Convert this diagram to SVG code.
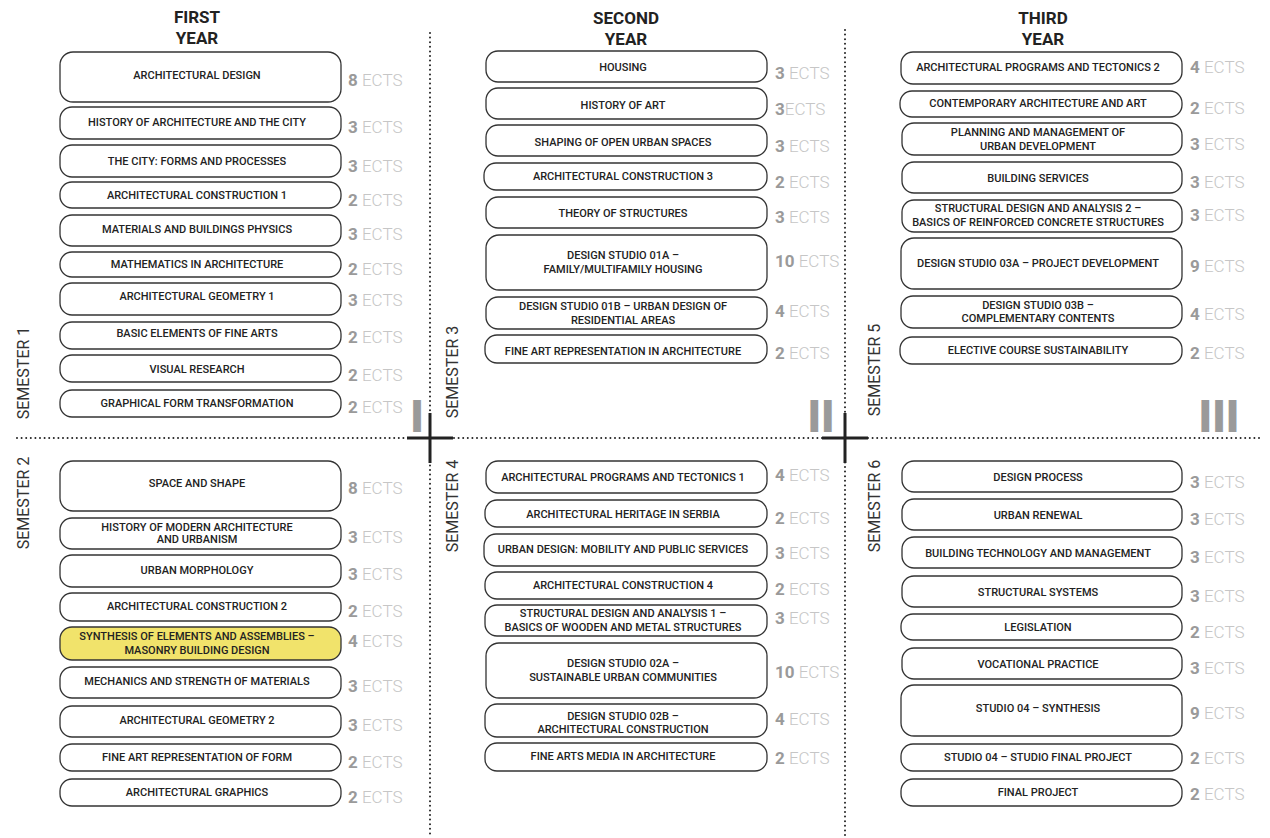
<svg xmlns="http://www.w3.org/2000/svg" width="1270" height="838" viewBox="0 0 1270 838">
<style>
.bg{fill:#fff}
.box{fill:#fff;stroke:#333;stroke-width:1.3}
.hl{fill:#f1e36b}
.lbl{font-family:Roboto,'Liberation Sans',sans-serif;font-size:11px;font-weight:500;fill:#222;text-anchor:middle}
.ects{font-family:Roboto,'Liberation Sans',sans-serif;font-size:17px}
.num{font-weight:700;fill:#9a9a9a}
.unit{font-weight:300;fill:#c6c6c6}
.year{font-family:Roboto,'Liberation Sans',sans-serif;font-size:17px;font-weight:700;fill:#222;text-anchor:middle}
.sem{font-family:Roboto,'Liberation Sans',sans-serif;font-size:16px;font-weight:400;fill:#333;text-anchor:middle}
.roman{font-family:Roboto,'Liberation Sans',sans-serif;font-size:45px;font-weight:900;fill:#9a9a9a;text-anchor:middle}
.dot{fill:none;stroke:#222;stroke-width:2;stroke-linecap:round;stroke-dasharray:0 4.6}
.cross{fill:none;stroke:#222;stroke-width:3}
</style>
<rect class="bg" x="0" y="0" width="1270" height="838"/>

<g id="grid">
<line class="dot" x1="430" y1="33" x2="430" y2="838"/>
<line class="dot" x1="845" y1="30" x2="845" y2="838"/>
<line class="dot" x1="17" y1="438" x2="1262" y2="438"/>
<path class="cross" d="M407 438H453M430 413V463"/>
<path class="cross" d="M822 438H868M845 413V463"/>
</g>

<g id="headers">
<text class="year" x="197" y="23">FIRST</text>
<text class="year" x="197" y="44">YEAR</text>
<text class="year" x="626" y="24">SECOND</text>
<text class="year" x="626" y="45">YEAR</text>
<text class="year" x="1043" y="24">THIRD</text>
<text class="year" x="1043" y="45">YEAR</text>
<text class="sem" transform="translate(29 373) rotate(-90)">SEMESTER 1</text>
<text class="sem" transform="translate(29 503) rotate(-90)">SEMESTER 2</text>
<text class="sem" transform="translate(458 372) rotate(-90)">SEMESTER 3</text>
<text class="sem" transform="translate(458 506) rotate(-90)">SEMESTER 4</text>
<text class="sem" transform="translate(880 370) rotate(-90)">SEMESTER 5</text>
<text class="sem" transform="translate(880 506) rotate(-90)">SEMESTER 6</text>
<text class="roman" x="417" y="432">I</text>
<text class="roman" x="821" y="432">II</text>
<text class="roman" x="1219" y="432">III</text>
</g>

<!-- Column 1 -->
<g id="c1-01"><rect class="box" x="60" y="52" width="281" height="50" rx="13"/><text class="lbl" x="197" y="79">ARCHITECTURAL DESIGN</text><text class="ects" x="348" y="86"><tspan class="num">8</tspan><tspan class="unit"> ECTS</tspan></text></g>
<g id="c1-02"><rect class="box" x="60" y="107" width="281" height="32" rx="12"/><text class="lbl" x="197" y="126">HISTORY OF ARCHITECTURE AND THE CITY</text><text class="ects" x="348" y="133"><tspan class="num">3</tspan><tspan class="unit"> ECTS</tspan></text></g>
<g id="c1-03"><rect class="box" x="60" y="145" width="281" height="32" rx="12"/><text class="lbl" x="197" y="165">THE CITY: FORMS AND PROCESSES</text><text class="ects" x="348" y="172"><tspan class="num">3</tspan><tspan class="unit"> ECTS</tspan></text></g>
<g id="c1-04"><rect class="box" x="60" y="182" width="281" height="26" rx="12"/><text class="lbl" x="197" y="199">ARCHITECTURAL CONSTRUCTION 1</text><text class="ects" x="348" y="206"><tspan class="num">2</tspan><tspan class="unit"> ECTS</tspan></text></g>
<g id="c1-05"><rect class="box" x="60" y="215" width="281" height="31" rx="12"/><text class="lbl" x="197" y="233">MATERIALS AND BUILDINGS PHYSICS</text><text class="ects" x="348" y="240"><tspan class="num">3</tspan><tspan class="unit"> ECTS</tspan></text></g>
<g id="c1-06"><rect class="box" x="60" y="252" width="281" height="25" rx="12"/><text class="lbl" x="197" y="268">MATHEMATICS IN ARCHITECTURE</text><text class="ects" x="348" y="275"><tspan class="num">2</tspan><tspan class="unit"> ECTS</tspan></text></g>
<g id="c1-07"><rect class="box" x="60" y="283" width="281" height="32" rx="12"/><text class="lbl" x="197" y="300">ARCHITECTURAL GEOMETRY 1</text><text class="ects" x="348" y="306"><tspan class="num">3</tspan><tspan class="unit"> ECTS</tspan></text></g>
<g id="c1-08"><rect class="box" x="60" y="322" width="281" height="27" rx="12"/><text class="lbl" x="197" y="337">BASIC ELEMENTS OF FINE ARTS</text><text class="ects" x="348" y="343"><tspan class="num">2</tspan><tspan class="unit"> ECTS</tspan></text></g>
<g id="c1-09"><rect class="box" x="60" y="355" width="281" height="27" rx="12"/><text class="lbl" x="197" y="373">VISUAL RESEARCH</text><text class="ects" x="348" y="381"><tspan class="num">2</tspan><tspan class="unit"> ECTS</tspan></text></g>
<g id="c1-10"><rect class="box" x="60" y="390" width="281" height="27" rx="12"/><text class="lbl" x="197" y="407">GRAPHICAL FORM TRANSFORMATION</text><text class="ects" x="348" y="413"><tspan class="num">2</tspan><tspan class="unit"> ECTS</tspan></text></g>
<g id="c1-11"><rect class="box" x="60" y="461" width="281" height="50" rx="13"/><text class="lbl" x="197" y="487">SPACE AND SHAPE</text><text class="ects" x="348" y="494"><tspan class="num">8</tspan><tspan class="unit"> ECTS</tspan></text></g>
<g id="c1-12"><rect class="box" x="60" y="518" width="281" height="31" rx="12"/><text class="lbl" x="197" y="531">HISTORY OF MODERN ARCHITECTURE</text><text class="lbl" x="197" y="543">AND URBANISM</text><text class="ects" x="348" y="543"><tspan class="num">3</tspan><tspan class="unit"> ECTS</tspan></text></g>
<g id="c1-13"><rect class="box" x="60" y="555" width="281" height="32" rx="12"/><text class="lbl" x="197" y="574">URBAN MORPHOLOGY</text><text class="ects" x="348" y="580"><tspan class="num">3</tspan><tspan class="unit"> ECTS</tspan></text></g>
<g id="c1-14"><rect class="box" x="60" y="593" width="281" height="28" rx="12"/><text class="lbl" x="197" y="610">ARCHITECTURAL CONSTRUCTION 2</text><text class="ects" x="348" y="617"><tspan class="num">2</tspan><tspan class="unit"> ECTS</tspan></text></g>
<g id="c1-15"><rect class="box hl" x="60" y="627" width="281" height="33" rx="12"/><text class="lbl" x="197" y="640">SYNTHESIS OF ELEMENTS AND ASSEMBLIES –</text><text class="lbl" x="197" y="654">MASONRY BUILDING DESIGN</text><text class="ects" x="348" y="647"><tspan class="num">4</tspan><tspan class="unit"> ECTS</tspan></text></g>
<g id="c1-16"><rect class="box" x="60" y="667" width="281" height="31" rx="12"/><text class="lbl" x="197" y="685">MECHANICS AND STRENGTH OF MATERIALS</text><text class="ects" x="348" y="692"><tspan class="num">3</tspan><tspan class="unit"> ECTS</tspan></text></g>
<g id="c1-17"><rect class="box" x="60" y="706" width="281" height="31" rx="12"/><text class="lbl" x="197" y="724">ARCHITECTURAL GEOMETRY 2</text><text class="ects" x="348" y="731"><tspan class="num">3</tspan><tspan class="unit"> ECTS</tspan></text></g>
<g id="c1-18"><rect class="box" x="60" y="744" width="281" height="27" rx="12"/><text class="lbl" x="197" y="761">FINE ART REPRESENTATION OF FORM</text><text class="ects" x="348" y="768"><tspan class="num">2</tspan><tspan class="unit"> ECTS</tspan></text></g>
<g id="c1-19"><rect class="box" x="60" y="779" width="281" height="27" rx="12"/><text class="lbl" x="197" y="796">ARCHITECTURAL GRAPHICS</text><text class="ects" x="348" y="803"><tspan class="num">2</tspan><tspan class="unit"> ECTS</tspan></text></g>

<!-- Column 2 -->
<g id="c2-01"><rect class="box" x="486" y="51" width="281" height="31" rx="12"/><text class="lbl" x="623" y="71">HOUSING</text><text class="ects" x="775" y="79"><tspan class="num">3</tspan><tspan class="unit"> ECTS</tspan></text></g>
<g id="c2-02"><rect class="box" x="486" y="88" width="281" height="31" rx="12"/><text class="lbl" x="623" y="109">HISTORY OF ART</text><text class="ects" x="775" y="115"><tspan class="num">3</tspan><tspan class="unit">ECTS</tspan></text></g>
<g id="c2-03"><rect class="box" x="486" y="125" width="281" height="31" rx="12"/><text class="lbl" x="623" y="146">SHAPING OF OPEN URBAN SPACES</text><text class="ects" x="775" y="152"><tspan class="num">3</tspan><tspan class="unit"> ECTS</tspan></text></g>
<g id="c2-04"><rect class="box" x="484" y="163" width="283" height="27" rx="12"/><text class="lbl" x="623" y="180">ARCHITECTURAL CONSTRUCTION 3</text><text class="ects" x="775" y="188"><tspan class="num">2</tspan><tspan class="unit"> ECTS</tspan></text></g>
<g id="c2-05"><rect class="box" x="486" y="197" width="281" height="31" rx="12"/><text class="lbl" x="623" y="217">THEORY OF STRUCTURES</text><text class="ects" x="775" y="223"><tspan class="num">3</tspan><tspan class="unit"> ECTS</tspan></text></g>
<g id="c2-06"><rect class="box" x="486" y="235" width="281" height="55" rx="13"/><text class="lbl" x="623" y="259">DESIGN STUDIO 01A –</text><text class="lbl" x="623" y="273">FAMILY/MULTIFAMILY HOUSING</text><text class="ects" x="775" y="267"><tspan class="num">10</tspan><tspan class="unit"> ECTS</tspan></text></g>
<g id="c2-07"><rect class="box" x="486" y="297" width="281" height="32" rx="12"/><text class="lbl" x="623" y="310">DESIGN STUDIO 01B – URBAN DESIGN OF</text><text class="lbl" x="623" y="324">RESIDENTIAL AREAS</text><text class="ects" x="775" y="317"><tspan class="num">4</tspan><tspan class="unit"> ECTS</tspan></text></g>
<g id="c2-08"><rect class="box" x="485" y="335" width="282" height="28" rx="12"/><text class="lbl" x="623" y="355">FINE ART REPRESENTATION IN ARCHITECTURE</text><text class="ects" x="775" y="359"><tspan class="num">2</tspan><tspan class="unit"> ECTS</tspan></text></g>
<g id="c2-09"><rect class="box" x="486" y="461" width="281" height="32" rx="12"/><text class="lbl" x="623" y="481">ARCHITECTURAL PROGRAMS AND TECTONICS 1</text><text class="ects" x="775" y="481"><tspan class="num">4</tspan><tspan class="unit"> ECTS</tspan></text></g>
<g id="c2-10"><rect class="box" x="485" y="500" width="282" height="27" rx="12"/><text class="lbl" x="623" y="518">ARCHITECTURAL HERITAGE IN SERBIA</text><text class="ects" x="775" y="524"><tspan class="num">2</tspan><tspan class="unit"> ECTS</tspan></text></g>
<g id="c2-11"><rect class="box" x="484" y="534" width="283" height="32" rx="12"/><text class="lbl" x="623" y="553">URBAN DESIGN: MOBILITY AND PUBLIC SERVICES</text><text class="ects" x="775" y="559"><tspan class="num">3</tspan><tspan class="unit"> ECTS</tspan></text></g>
<g id="c2-12"><rect class="box" x="485" y="572" width="282" height="27" rx="12"/><text class="lbl" x="623" y="589">ARCHITECTURAL CONSTRUCTION 4</text><text class="ects" x="775" y="595"><tspan class="num">2</tspan><tspan class="unit"> ECTS</tspan></text></g>
<g id="c2-13"><rect class="box" x="485" y="605" width="282" height="31" rx="12"/><text class="lbl" x="623" y="617">STRUCTURAL DESIGN AND ANALYSIS  1 –</text><text class="lbl" x="623" y="631">BASICS OF WOODEN AND METAL STRUCTURES</text><text class="ects" x="775" y="624"><tspan class="num">3</tspan><tspan class="unit"> ECTS</tspan></text></g>
<g id="c2-14"><rect class="box" x="486" y="643" width="281" height="55" rx="13"/><text class="lbl" x="623" y="667">DESIGN STUDIO 02A –</text><text class="lbl" x="623" y="681">SUSTAINABLE URBAN COMMUNITIES</text><text class="ects" x="775" y="678"><tspan class="num">10</tspan><tspan class="unit"> ECTS</tspan></text></g>
<g id="c2-15"><rect class="box" x="485" y="704" width="282" height="33" rx="12"/><text class="lbl" x="623" y="720">DESIGN STUDIO 02B –</text><text class="lbl" x="623" y="733">ARCHITECTURAL CONSTRUCTION</text><text class="ects" x="775" y="725"><tspan class="num">4</tspan><tspan class="unit"> ECTS</tspan></text></g>
<g id="c2-16"><rect class="box" x="485" y="743" width="282" height="28" rx="12"/><text class="lbl" x="623" y="760">FINE ARTS MEDIA IN ARCHITECTURE</text><text class="ects" x="775" y="764"><tspan class="num">2</tspan><tspan class="unit"> ECTS</tspan></text></g>

<!-- Column 3 -->
<g id="c3-01"><rect class="box" x="901" y="52" width="281" height="32" rx="12"/><text class="lbl" x="1038" y="71">ARCHITECTURAL PROGRAMS AND TECTONICS 2</text><text class="ects" x="1190" y="73"><tspan class="num">4</tspan><tspan class="unit"> ECTS</tspan></text></g>
<g id="c3-02"><rect class="box" x="900" y="91" width="282" height="26" rx="12"/><text class="lbl" x="1038" y="107">CONTEMPORARY ARCHITECTURE AND ART</text><text class="ects" x="1190" y="114"><tspan class="num">2</tspan><tspan class="unit"> ECTS</tspan></text></g>
<g id="c3-03"><rect class="box" x="902" y="123" width="280" height="32" rx="12"/><text class="lbl" x="1038" y="136">PLANNING AND MANAGEMENT OF</text><text class="lbl" x="1038" y="150">URBAN DEVELOPMENT</text><text class="ects" x="1190" y="150"><tspan class="num">3</tspan><tspan class="unit"> ECTS</tspan></text></g>
<g id="c3-04"><rect class="box" x="902" y="162" width="280" height="31" rx="12"/><text class="lbl" x="1038" y="182">BUILDING SERVICES</text><text class="ects" x="1190" y="188"><tspan class="num">3</tspan><tspan class="unit"> ECTS</tspan></text></g>
<g id="c3-05"><rect class="box" x="902" y="200" width="280" height="32" rx="12"/><text class="lbl" x="1038" y="212">STRUCTURAL DESIGN AND ANALYSIS 2 –</text><text class="lbl" x="1038" y="226">BASICS OF REINFORCED CONCRETE STRUCTURES</text><text class="ects" x="1190" y="221"><tspan class="num">3</tspan><tspan class="unit"> ECTS</tspan></text></g>
<g id="c3-06"><rect class="box" x="901" y="238" width="281" height="51" rx="13"/><text class="lbl" x="1038" y="267">DESIGN STUDIO 03A – PROJECT DEVELOPMENT</text><text class="ects" x="1190" y="272"><tspan class="num">9</tspan><tspan class="unit"> ECTS</tspan></text></g>
<g id="c3-07"><rect class="box" x="901" y="296" width="281" height="32" rx="12"/><text class="lbl" x="1038" y="309">DESIGN STUDIO 03B –</text><text class="lbl" x="1038" y="322">COMPLEMENTARY CONTENTS</text><text class="ects" x="1190" y="320"><tspan class="num">4</tspan><tspan class="unit"> ECTS</tspan></text></g>
<g id="c3-08"><rect class="box" x="900" y="337" width="282" height="27" rx="12"/><text class="lbl" x="1038" y="354">ELECTIVE COURSE SUSTAINABILITY</text><text class="ects" x="1190" y="359"><tspan class="num">2</tspan><tspan class="unit"> ECTS</tspan></text></g>
<g id="c3-09"><rect class="box" x="902" y="461" width="280" height="31" rx="12"/><text class="lbl" x="1038" y="481">DESIGN PROCESS</text><text class="ects" x="1190" y="488"><tspan class="num">3</tspan><tspan class="unit"> ECTS</tspan></text></g>
<g id="c3-10"><rect class="box" x="902" y="499" width="280" height="31" rx="12"/><text class="lbl" x="1038" y="519">URBAN RENEWAL</text><text class="ects" x="1190" y="525"><tspan class="num">3</tspan><tspan class="unit"> ECTS</tspan></text></g>
<g id="c3-11"><rect class="box" x="902" y="537" width="280" height="31" rx="12"/><text class="lbl" x="1038" y="557">BUILDING TECHNOLOGY AND MANAGEMENT</text><text class="ects" x="1190" y="563"><tspan class="num">3</tspan><tspan class="unit"> ECTS</tspan></text></g>
<g id="c3-12"><rect class="box" x="902" y="576" width="280" height="31" rx="12"/><text class="lbl" x="1038" y="596">STRUCTURAL SYSTEMS</text><text class="ects" x="1190" y="602"><tspan class="num">3</tspan><tspan class="unit"> ECTS</tspan></text></g>
<g id="c3-13"><rect class="box" x="901" y="614" width="281" height="26" rx="12"/><text class="lbl" x="1038" y="631">LEGISLATION</text><text class="ects" x="1190" y="638"><tspan class="num">2</tspan><tspan class="unit"> ECTS</tspan></text></g>
<g id="c3-14"><rect class="box" x="902" y="648" width="280" height="31" rx="12"/><text class="lbl" x="1038" y="668">VOCATIONAL PRACTICE</text><text class="ects" x="1190" y="674"><tspan class="num">3</tspan><tspan class="unit"> ECTS</tspan></text></g>
<g id="c3-15"><rect class="box" x="901" y="685" width="281" height="51" rx="13"/><text class="lbl" x="1038" y="712">STUDIO 04 – SYNTHESIS</text><text class="ects" x="1190" y="719"><tspan class="num">9</tspan><tspan class="unit"> ECTS</tspan></text></g>
<g id="c3-16"><rect class="box" x="901" y="744" width="281" height="27" rx="12"/><text class="lbl" x="1038" y="761">STUDIO 04 – STUDIO FINAL PROJECT</text><text class="ects" x="1190" y="764"><tspan class="num">2</tspan><tspan class="unit"> ECTS</tspan></text></g>
<g id="c3-17"><rect class="box" x="901" y="779" width="281" height="27" rx="12"/><text class="lbl" x="1038" y="796">FINAL PROJECT</text><text class="ects" x="1190" y="800"><tspan class="num">2</tspan><tspan class="unit"> ECTS</tspan></text></g>
</svg>
